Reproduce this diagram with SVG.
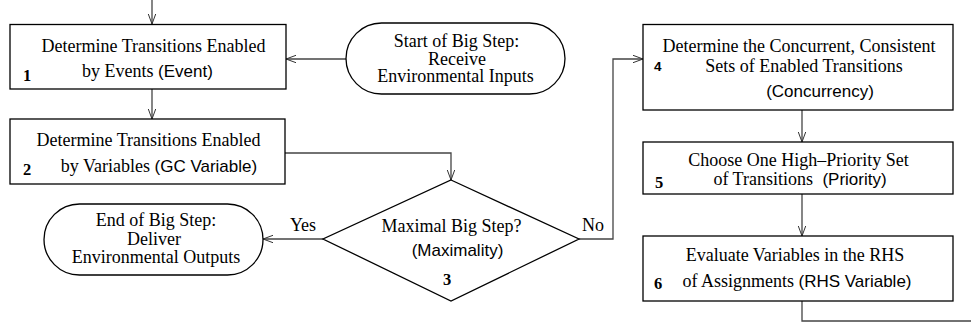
<svg xmlns="http://www.w3.org/2000/svg" width="971" height="327" viewBox="0 0 971 327">
<defs>
<marker id="arr" markerUnits="userSpaceOnUse" markerWidth="12" markerHeight="10" refX="10" refY="4" orient="auto">
<path d="M0,0.3 L10,4 L0,7.7" fill="none" stroke="#333" stroke-width="1"/>
</marker>
<style>
.box{fill:#fff;stroke:#000;stroke-width:1.3}
.conn{fill:none;stroke:#444;stroke-width:1.3}
.s{font-family:"Liberation Serif","Times New Roman",serif;font-size:18px;fill:#000;text-anchor:middle}
.ss{font-family:"Liberation Sans",Arial,sans-serif;font-size:17px;fill:#000}
.n{font-family:"Liberation Serif","Times New Roman",serif;font-size:16.5px;font-weight:bold;fill:#000}
.nb{font-family:"Liberation Sans",Arial,sans-serif;font-size:13.5px;font-weight:bold;fill:#000}
</style>
</defs>
<rect width="971" height="327" fill="#fff"/>
<g id="connectors">
<path class="conn" d="M152,0 V24" marker-end="url(#arr)"/>
<path class="conn" d="M152,89 V119" marker-end="url(#arr)"/>
<path class="conn" d="M346,59 H286" marker-end="url(#arr)"/>
<path class="conn" d="M285,153 H451 V180" marker-end="url(#arr)"/>
<path class="conn" d="M323,239 H263" marker-end="url(#arr)"/>
<path class="conn" d="M579,239 H613 V59 H643" marker-end="url(#arr)"/>
<path class="conn" d="M802,110 V142" marker-end="url(#arr)"/>
<path class="conn" d="M802,194 V236" marker-end="url(#arr)"/>
<path class="conn" d="M802,301 V321 H971"/>
<text class="s" x="303" y="231">Yes</text>
<text class="s" x="593" y="231">No</text>
</g>
<g id="n1">
<rect class="box" x="10" y="24.5" width="276" height="64.5"/>
<text class="s" x="153.5" y="52">Determine Transitions Enabled</text>
<text class="s" x="147.5" y="77">by Events <tspan class="ss">(Event)</tspan></text>
<text class="n" x="23" y="81">1</text>
</g>
<g id="n2">
<rect class="box" x="10" y="119" width="275" height="65"/>
<text class="s" x="148.5" y="146">Determine Transitions Enabled</text>
<text class="s" x="159" y="172">by Variables <tspan class="ss">(GC Variable)</tspan></text>
<text class="n" x="23" y="175">2</text>
</g>
<g id="start">
<rect class="box" x="346" y="23" width="219" height="71" rx="35.5"/>
<text class="s" x="456.5" y="47">Start of Big Step:</text>
<text class="s" x="457" y="65">Receive</text>
<text class="s" x="455.5" y="82">Environmental Inputs</text>
</g>
<g id="n3">
<polygon class="box" points="451,180 579,239 451,301 323,239"/>
<text class="s" x="451.5" y="232">Maximal Big Step?</text>
<text class="s" x="457.5" y="256"><tspan class="ss">(Maximality)</tspan></text>
<text class="n" x="447" y="285" text-anchor="middle">3</text>
</g>
<g id="end">
<rect class="box" x="44" y="204" width="219" height="71" rx="35.5"/>
<text class="s" x="156" y="226">End of Big Step:</text>
<text class="s" x="154" y="245">Deliver</text>
<text class="s" x="156" y="263">Environmental Outputs</text>
</g>
<g id="n4">
<rect class="box" x="643" y="24.5" width="310" height="85.5"/>
<text class="s" x="799" y="52">Determine the Concurrent, Consistent</text>
<text class="s" x="804" y="72">Sets of Enabled Transitions</text>
<text class="s" x="820" y="97"><tspan class="ss">(Concurrency)</tspan></text>
<text class="nb" x="654" y="71">4</text>
</g>
<g id="n5">
<rect class="box" x="643" y="142" width="310" height="52"/>
<text class="s" x="798.5" y="166">Choose One High–Priority Set</text>
<text class="s" x="800" y="185">of Transitions <tspan class="ss" dx="5">(Priority)</tspan></text>
<text class="n" x="655" y="188">5</text>
</g>
<g id="n6">
<rect class="box" x="643" y="236" width="310" height="65"/>
<text class="s" x="795" y="261">Evaluate Variables in the RHS</text>
<text class="s" x="797" y="287">of Assignments <tspan class="ss">(RHS Variable)</tspan></text>
<text class="n" x="654" y="289">6</text>
</g>
</svg>
